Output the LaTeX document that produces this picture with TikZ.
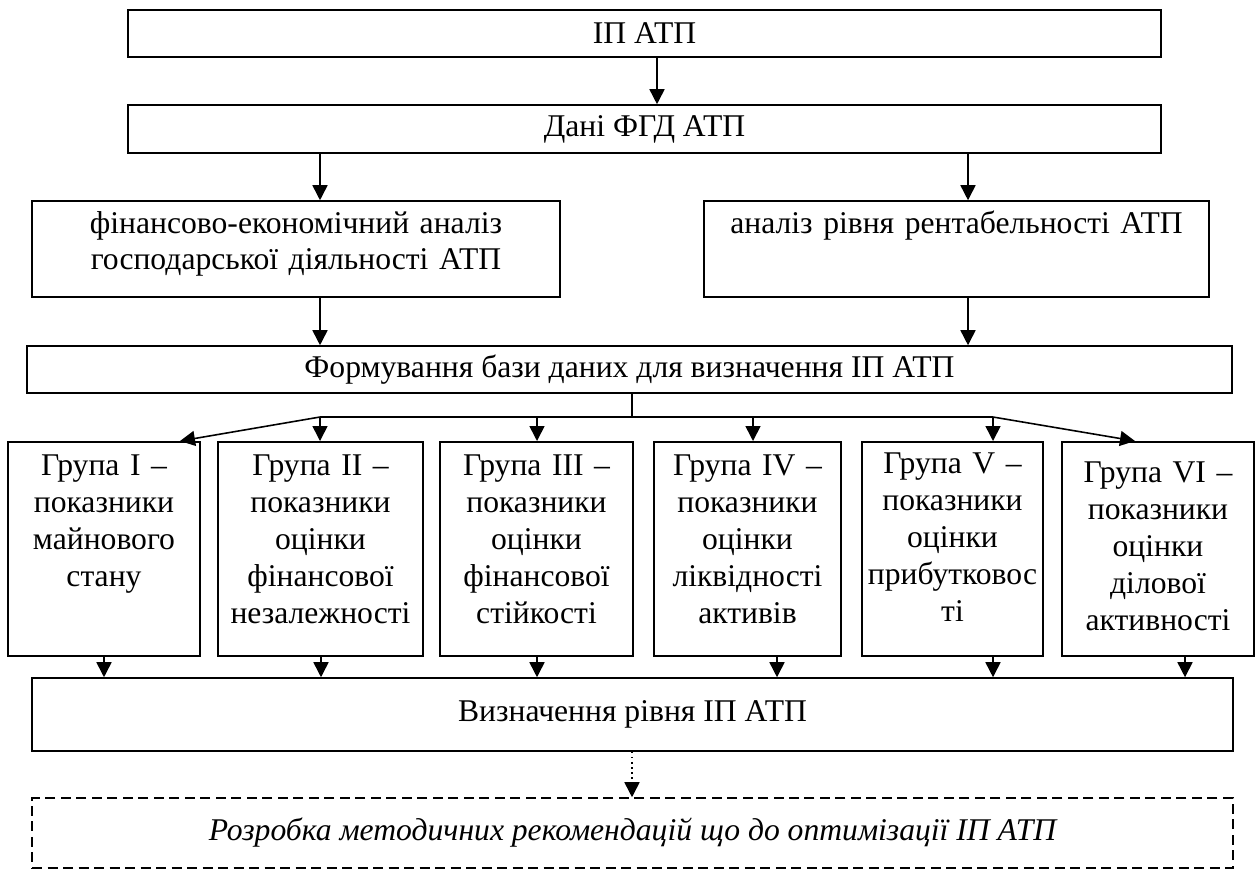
\documentclass[tikz,border=0pt]{standalone}
\usepackage{fontspec}
\setmainfont{Liberation Serif}
\usetikzlibrary{arrows.meta}

\begin{document}
\begin{tikzpicture}[x=0.02cm, y=-0.02cm, line width=0.9pt,
    font=\fontsize{18}{21}\selectfont,
    blk/.style={draw, inner sep=0pt, align=center},
    grp/.style={draw, anchor=north, inner sep=0pt, align=center, text height=0.68cm, text depth=3.6cm},
    arr/.style={-{Triangle[length=0.3cm, width=0.3cm]}}]
    \useasboundingbox (0,0) rectangle (1256,870);
    \node[blk, minimum width=20.66cm, minimum height=0.94cm] (ip) at (644.5,33.5) {ІП АТП};
    \node[blk, minimum width=20.66cm, minimum height=0.96cm] (dani) at (644.5,129) {Дані ФГД АТП};
    \node[blk, text width=10.56cm, text height=0.64cm, text depth=1.28cm] (fin) at (296,249)
        {фінансово-економічний аналіз\\господарської діяльності АТП};
    \node[blk, text width=10.1cm, text height=0.64cm, text depth=1.28cm] (rent) at (956.5,249)
        {аналіз рівня рентабельності АТП};
    \node[blk, minimum width=24.1cm, minimum height=0.94cm] (baza) at (629.5,369.5)
        {Формування бази даних для визначення ІП АТП};
    \node[grp, text width=3.84cm] (g1) at (104,441) {Група I –\\показники\\майнового\\стану};
    \node[grp, text width=4.1cm] (g2) at (320.5,441) {Група II –\\показники\\оцінки\\фінансової\\незалежності};
    \node[grp, text width=3.86cm] (g3) at (536.5,441) {Група III –\\показники\\оцінки\\фінансової\\стійкості};
    \node[grp, text width=3.74cm] (g4) at (747.5,441) {Група IV –\\показники\\оцінки\\ліквідності\\активів};
    \node[grp, text width=3.62cm, text height=0.64cm, text depth=3.64cm] (g5) at (952.5,441)
        {Група V –\\показники\\оцінки\\прибутковос\\ті};
    \node[grp, text width=3.84cm, text height=0.82cm, text depth=3.46cm] (g6) at (1158,441)
        {Група VI –\\показники\\оцінки\\ділової\\активності};
    \node[blk, minimum width=24.02cm, minimum height=1.46cm] (vyzn) at (632.5,714.5) {Визначення рівня ІП АТП};
    \node[blk, dash pattern=on 0.2cm off 0.11cm, minimum width=24.02cm, minimum height=1.4cm] (rozr) at (632.5,833)
        {\itshape Розробка методичних рекомендацій що до оптимізації ІП АТП};
    \coordinate (hl) at (320,417);
    \coordinate (hm) at (632,417);
    \coordinate (hr) at (993,417);

    \draw[arr] (657,0 |- ip.south) -- (657,0 |- dani.north);
    \draw[arr] (320,0 |- dani.south) -- (320,0 |- fin.north);
    \draw[arr] (968,0 |- dani.south) -- (968,0 |- rent.north);
    \draw[arr] (320,0 |- fin.south) -- (320,0 |- baza.north);
    \draw[arr] (968,0 |- rent.south) -- (968,0 |- baza.north);
    \draw (hm |- baza.south) -- (hm);
    \draw (hl) -- (hr);
    \draw[arr] (hl) -- (180,0 |- g1.north);
    \draw[arr] (hl) -- (hl |- g2.north);
    \draw[arr] (537,417) -- (537,0 |- g3.north);
    \draw[arr] (753,417) -- (753,0 |- g4.north);
    \draw[arr] (hr) -- (hr |- g5.north);
    \draw[arr] (hr) -- (1135,0 |- g6.north);
    \draw[arr] (104,0 |- g1.south) -- (104,0 |- vyzn.north);
    \draw[arr] (321,0 |- g2.south) -- (321,0 |- vyzn.north);
    \draw[arr] (537,0 |- g3.south) -- (537,0 |- vyzn.north);
    \draw[arr] (777,0 |- g4.south) -- (777,0 |- vyzn.north);
    \draw[arr] (993,0 |- g5.south) -- (993,0 |- vyzn.north);
    \draw[arr] (1185,0 |- g6.south) -- (1185,0 |- vyzn.north);
    \draw[arr, dotted] (hm |- vyzn.south) -- (hm |- rozr.north);
\end{tikzpicture}
\end{document}
